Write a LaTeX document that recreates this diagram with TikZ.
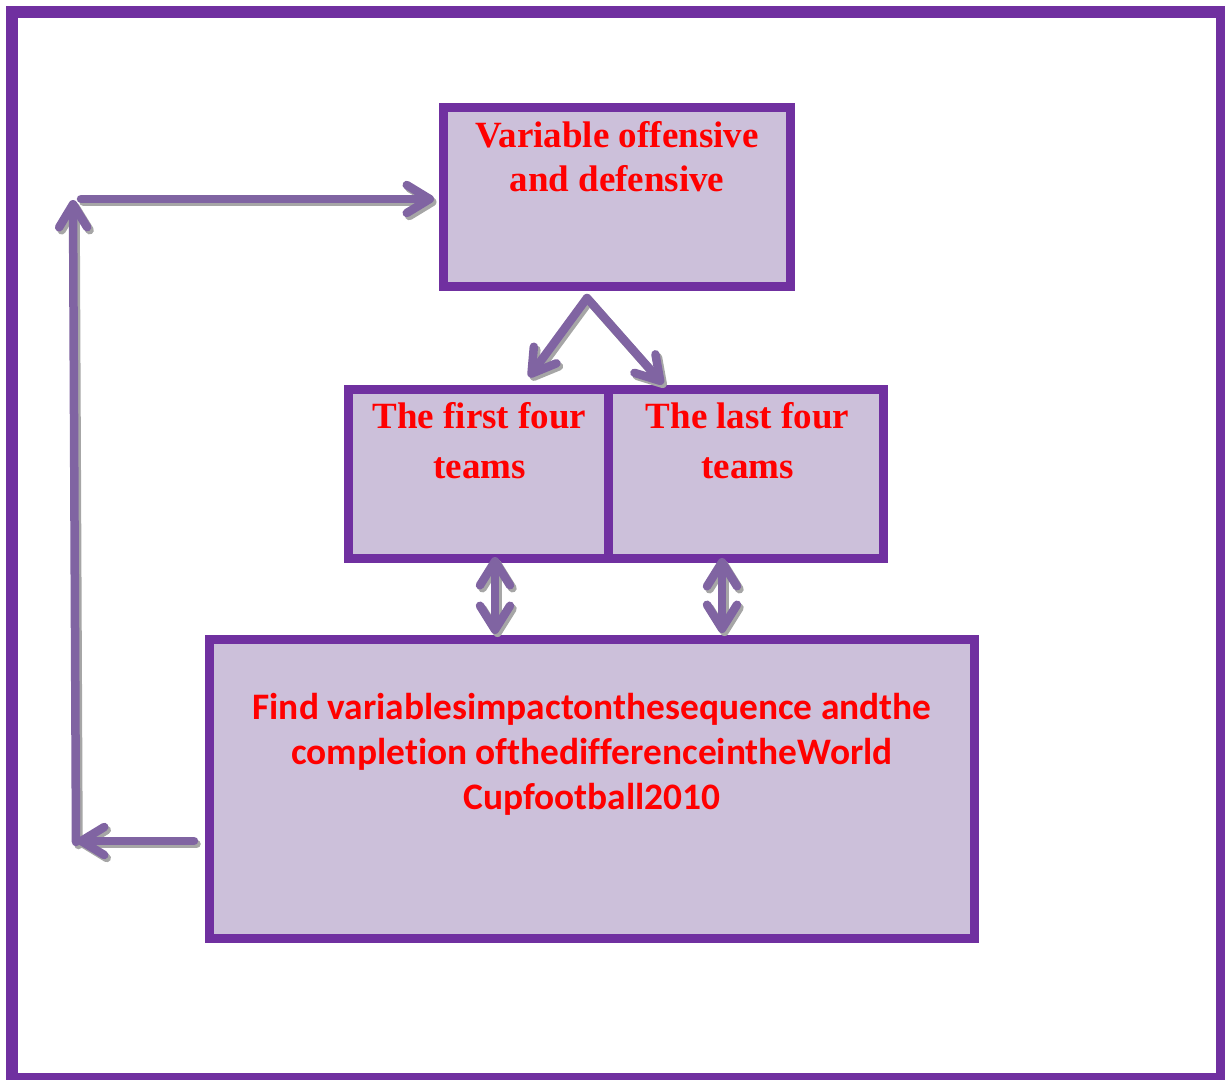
\documentclass[tikz,border=0pt]{standalone}
\usepackage{fontspec}
\setmainfont{Liberation Serif}
\newfontfamily\calibfont[Ligatures={NoCommon}]{Carlito}
\usetikzlibrary{arrows.meta}
\definecolor{boxfill}{HTML}{CCC0DA}
\definecolor{boxline}{HTML}{7030A0}
\definecolor{arrc}{HTML}{8064A2}
\definecolor{shad}{HTML}{A6A6A6}
\definecolor{txtred}{HTML}{FF0000}
\begin{document}
\begin{tikzpicture}[x=1pt,y=-1pt,
  box/.style={draw=boxline, fill=boxfill, line width=9pt, inner sep=0pt},
  serift/.style={text=txtred, align=center, inner sep=0pt, anchor=north},
  arr/.style={draw=arrc, line width=8.5pt, line cap=round, line join=round},
  shd/.style={arr, draw=shad, transform canvas={shift={(2.5,3)}}},
  ah/.style={-{Straight Barb[round, length=23pt, width=28pt]}},
  dh/.style={{Straight Barb[round, length=24pt, width=30pt]}-{Straight Barb[round, length=24pt, width=30pt]}}
]
\useasboundingbox (0,0) rectangle (1225,1079);
% outer frame
\draw[draw=boxline, line width=12pt] (12,12) rectangle (1222,1079);

% boxes
\node[box, minimum width=347pt, minimum height=179pt] (top) at (617,197) {};
\node[box, minimum width=260pt, minimum height=169pt] (ml) at (478.5,474) {};
\node[box, minimum width=275pt, minimum height=169pt] (mr) at (746,474) {};
\node[box, minimum width=765pt, minimum height=299pt] (bot) at (592,789) {};

% texts
\node[serift, font=\fontsize{37}{44}\selectfont\bfseries] (ttop) at (617,121) {Variable offensive\\and defensive};
\node[serift, font=\fontsize{37}{50}\selectfont\bfseries] (tml) at (479.5,402) {The first four\\teams};
\node[serift, font=\fontsize{37}{50}\selectfont\bfseries] (tmr) at (747.5,402) {The last four\\teams};
\node[serift, font=\calibfont\fontsize{37.4}{45}\selectfont\bfseries] (tbot) at (592,693)
  {Find variablesimpactonthesequence andthe\\completion ofthedifferenceintheWorld\\Cupfootball2010};

% connector points
\coordinate (lb) at (194,841);
\coordinate (lc) at (77,841);
\coordinate (lc2) at (76,842);
\coordinate (lt) at (73,200);
\coordinate (ls) at (81,199);
\coordinate (te) at (434,199);
\coordinate (vs) at (587,298);
\coordinate (ve1) at (529,377);
\coordinate (ve2) at (663,384);
\coordinate (d1a) at (495,557);
\coordinate (d1b) at (495,634);
\coordinate (d2a) at (722,558);
\coordinate (d2b) at (722,633);

% shadows
\draw[shd, ah] (lb) -- (lc);
\draw[shd, ah] (lc2) -- (lt);
\draw[shd, ah] (ls) -- (te);
\draw[shd, ah] (vs) -- (ve1);
\draw[shd, ah] (vs) -- (ve2);
\draw[shd, dh] (d1a) -- (d1b);
\draw[shd, dh] (d2a) -- (d2b);

% arrows
\draw[arr, ah] (lb) -- (lc);
\draw[arr, ah] (lc2) -- (lt);
\draw[arr, ah] (ls) -- (te);
\draw[arr, ah] (vs) -- (ve1);
\draw[arr, ah] (vs) -- (ve2);
\draw[arr, dh] (d1a) -- (d1b);
\draw[arr, dh] (d2a) -- (d2b);
\end{tikzpicture}
\end{document}
